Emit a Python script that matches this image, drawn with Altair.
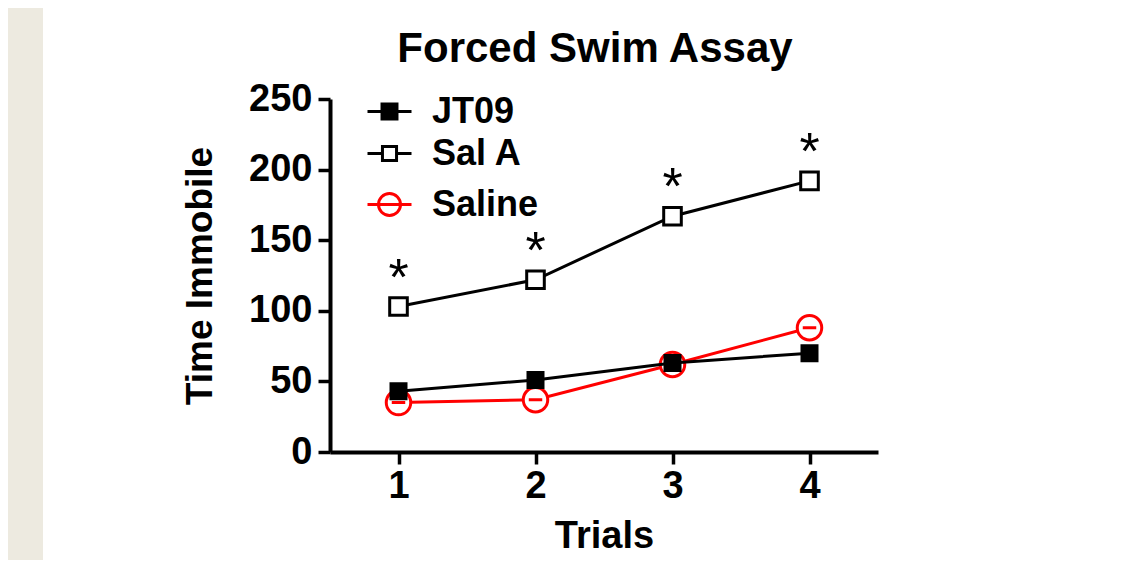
import altair as alt
import pandas as pd

# ---- data ----
trials = [1, 2, 3, 4]
jt09 = [43, 51, 63, 70]
sal_a = [103, 122, 167, 192]
saline = [35, 37, 62, 88]
series_names = ["JT09", "Sal A", "Saline"]
series_colors = ["#000000", "#000000", "#ff0000"]
y_ticks = [0, 50, 100, 150, 200, 250]
star_label = "*"
title_text = "Forced Swim Assay"
x_title = "Trials"
y_title = "Time Immobile"

FONT = "Liberation Sans"

rows = []
for name, vals in zip(series_names, [jt09, sal_a, saline]):
    for t, v in zip(trials, vals):
        rows.append({"series": name, "trial": t, "value": v})
df = pd.DataFrame(rows)

# legend symbols (line + marker), unit box [-1, 1]
legend_paths = {
    "JT09": "M-1,0H1M-0.34,-0.34H0.34V0.34H-0.34Z",
    "Sal A": "M-1,0H-0.32M0.32,0H1M-0.32,-0.32H0.32V0.32H-0.32Z",
    "Saline": "M-1,0H1M0.5,0A0.5,0.5,0,1,1,-0.5,0A0.5,0.5,0,1,1,0.5,0Z",
}
legend_fill = {"JT09": "#000000", "Sal A": "#ffffff", "Saline": "#ffffff"}
legend_pos = {"JT09": (36, -11), "Sal A": (36, 31), "Saline": (36, 82)}
saline_point = "M-0.55,0H0.55M1,0A1,1,0,1,1,-1,0A1,1,0,1,1,1,0Z"

color_of = dict(zip(series_names, series_colors))

x_enc = alt.X(
    "trial:Q",
    scale=alt.Scale(domain=[0.5, 4.5], nice=False, zero=False),
    axis=alt.Axis(values=trials, format="d", title=x_title, grid=False,
                  domainColor="black", domainWidth=4, tickColor="black", tickWidth=3.5,
                  tickSize=12, labelFont=FONT, labelFontSize=38, labelFontWeight="bold",
                  labelColor="black", labelPadding=3, titleFont=FONT, titleFontSize=38,
                  titleFontWeight="bold", titleColor="black", titlePadding=12),
)
y_enc = alt.Y(
    "value:Q",
    scale=alt.Scale(domain=[0, 250], nice=False),
    axis=alt.Axis(values=y_ticks, title=y_title, grid=False,
                  domainColor="black", domainWidth=4, tickColor="black", tickWidth=3.5,
                  tickSize=12, labelFont=FONT, labelFontSize=38, labelFontWeight="bold",
                  labelColor="black", labelPadding=6, titleFont=FONT, titleFontSize=37,
                  titleFontWeight="bold", titleColor="black", titlePadding=29),
)

base = alt.Chart(df).encode(x=x_enc, y=y_enc)


def series_layers(name, **pt):
    sub = base.transform_filter(alt.datum.series == name)
    line = sub.mark_line(strokeWidth=3, color=color_of[name])
    pts = sub.mark_point(strokeWidth=3, opacity=1, filled=True, stroke=color_of[name], **pt)
    lx, ly = legend_pos[name]
    leg = alt.Chart(df).transform_filter("false").mark_point(
        shape=legend_paths[name], size=1936, filled=True, fill=legend_fill[name],
        strokeWidth=3, opacity=1,
    ).encode(
        stroke=alt.Stroke(
            "series:N",
            scale=alt.Scale(domain=[name], range=[color_of[name]]),
            legend=alt.Legend(
                orient="none", legendX=lx, legendY=ly, title=None, padding=0,
                labelFont=FONT, labelFontSize=36, labelFontWeight="bold",
                labelColor="black", labelOffset=19, symbolSize=1936,
                symbolStrokeWidth=3, symbolType=legend_paths[name],
                symbolFillColor=legend_fill[name], symbolStrokeColor=color_of[name],
                symbolOpacity=1,
            ),
        )
    )
    return [line, pts, leg]


layers = []
layers += series_layers("Saline", shape=saline_point, size=600, fill="white")
layers += series_layers("JT09", shape="square", size=225, fill="black")
layers += series_layers("Sal A", shape="square", size=310, fill="white")

stars = alt.Chart(df).transform_filter(alt.datum.series == "Sal A").mark_text(
    text=star_label, font=FONT, fontSize=52, color="black", dy=-28, baseline="middle"
).encode(x=x_enc, y=y_enc)

strip = alt.Chart(pd.DataFrame({"strip": [0]})).mark_rect(color="#EDEAE0").encode(
    x=alt.value(-322), x2=alt.value(-287), y=alt.value(-91), y2=alt.value(461)
)

chart = alt.layer(strip, *layers, stars).resolve_scale(
    stroke="independent"
).resolve_legend(stroke="independent").properties(
    width=548, height=353,
    title=alt.TitleParams(text=title_text, font=FONT, fontSize=42, fontWeight="bold",
                          color="black", anchor="middle", frame="group", dx=-9,
                          offset=-96, baseline="alphabetic"),
    autosize=alt.AutoSizeParams(type="none"),
    padding={"left": 322, "top": 91, "right": 247, "bottom": 108},
    background="white",
).configure_view(strokeWidth=0)

chart.save("out.html", embed_options={"renderer": "svg", "actions": False})
